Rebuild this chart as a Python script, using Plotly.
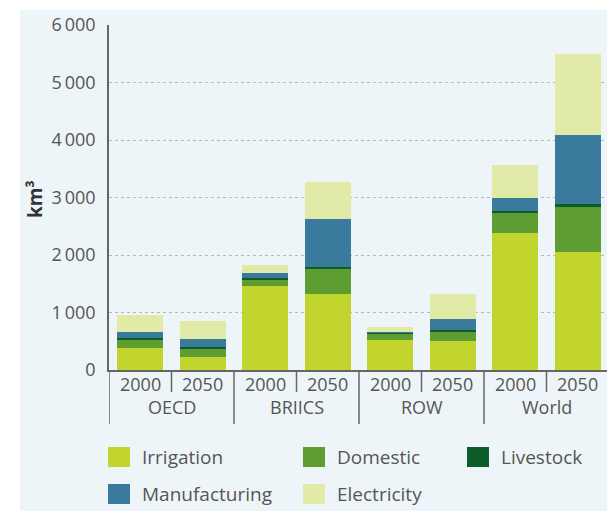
import plotly.graph_objects as go

groups = ["OECD", "BRIICS", "ROW", "World"]
years = ["2000", "2050"]
series_names = ["Irrigation", "Domestic", "Livestock", "Manufacturing", "Electricity"]
irrigation = [390, 220, 1460, 1320, 530, 505, 2390, 2060]
domestic = [140, 157, 115, 430, 100, 160, 350, 770]
livestock = [30, 25, 20, 35, 20, 30, 30, 60]
manufacturing = [100, 130, 100, 840, 15, 185, 230, 1200]
electricity = [290, 325, 130, 640, 80, 440, 560, 1400]
colors = ["#c2d52e", "#5d9d32", "#0d5c2a", "#3a7b9d", "#e2eaa8"]
ytick_vals = [0, 1000, 2000, 3000, 4000, 5000, 6000]
ytick_text = ["0", "1\u2009000", "2\u2009000", "3\u2009000", "4\u2009000", "5\u2009000", "6\u2009000"]

W, H = 607, 511
L, T, B = 109, 25, 141
plot_w = W - L
plot_h = H - T - B

font_family = "Open Sans"
text_color = "#555555"

series_vals = [irrigation, domestic, livestock, manufacturing, electricity]
n_bars = len(groups) * len(years)
xpos = list(range(n_bars))
year_labels = [y for g in groups for y in years]

fig = go.Figure()
for name, vals, col in zip(series_names, series_vals, colors):
    fig.add_trace(go.Bar(x=xpos, y=vals, name=name, marker=dict(color=col, line=dict(width=0)),
                         width=0.74, showlegend=False))

spacing = 62.5
x_end = -0.5 + plot_w / spacing

def px_to_paper_x(px):
    return (px - L) / plot_w

def px_to_paper_y(py):
    return (H - B - py) / plot_h

shapes = []
# background panel
shapes.append(dict(type="rect", xref="paper", yref="paper",
                   x0=px_to_paper_x(20), x1=px_to_paper_x(W + 5),
                   y0=px_to_paper_y(H + 5), y1=px_to_paper_y(10),
                   fillcolor="#eef5f8", line=dict(width=0), layer="below"))
# separators below x axis
for i in range(len(groups) + 1):
    xs = i * len(years) - 0.5
    if xs > x_end:
        continue
    shapes.append(dict(type="line", xref="x", yref="paper", x0=xs, x1=xs,
                       y0=0, y1=px_to_paper_y(424), line=dict(color="#666666", width=1.5)))
for i in range(len(groups)):
    xs = i * len(years) + 0.5
    shapes.append(dict(type="line", xref="x", yref="paper", x0=xs, x1=xs,
                       y0=0, y1=px_to_paper_y(392), line=dict(color="#666666", width=1.5)))

annotations = []
for i, g in enumerate(groups):
    annotations.append(dict(x=i * len(years) + 0.5, y=px_to_paper_y(407), xref="x", yref="paper",
                            text=g, showarrow=False, font=dict(size=18, color=text_color, family=font_family),
                            xanchor="center", yanchor="middle"))
for i, yl in enumerate(year_labels):
    annotations.append(dict(x=i, y=px_to_paper_y(384), xref="x", yref="paper",
                            text=yl, showarrow=False, font=dict(size=18, color=text_color, family=font_family),
                            xanchor="center", yanchor="middle"))
# y title
annotations.append(dict(x=px_to_paper_x(35), y=px_to_paper_y(199), xref="paper", yref="paper",
                        text="<b>km³</b>", textangle=-90, showarrow=False,
                        font=dict(size=19, color="#333333", family=font_family),
                        xanchor="center", yanchor="middle"))

# legend (manual)
legend_pos = [(108, 457), (303, 457), (467, 457), (108, 494), (303, 494)]
for (lx, ly), name, col in zip(legend_pos, series_names, colors):
    shapes.append(dict(type="rect", xref="paper", yref="paper",
                       x0=px_to_paper_x(lx), x1=px_to_paper_x(lx + 22),
                       y0=px_to_paper_y(ly + 10), y1=px_to_paper_y(ly - 10),
                       fillcolor=col, line=dict(width=0)))
    annotations.append(dict(x=px_to_paper_x(lx + 32), y=px_to_paper_y(ly), xref="paper", yref="paper",
                            text=name, showarrow=False, xanchor="left", yanchor="middle",
                            font=dict(size=19, color=text_color, family=font_family)))

fig.update_layout(
    width=W, height=H,
    margin=dict(l=L, r=0, t=T, b=B, pad=0),
    barmode="stack",
    paper_bgcolor="white",
    plot_bgcolor="rgba(0,0,0,0)",
    shapes=shapes,
    annotations=annotations,
    font=dict(family=font_family, color=text_color),
    xaxis=dict(range=[-0.5, x_end], showticklabels=False, showgrid=False, zeroline=False,
               showline=True, linecolor="#666666", linewidth=1.5, ticks=""),
    yaxis=dict(range=[0, 6000], tickvals=ytick_vals, ticktext=ytick_text,
               showgrid=True, gridcolor="#b5b9bb", griddash="dot", gridwidth=1,
               zeroline=False, showline=True, linecolor="#666666", linewidth=1.5,
               ticks="", ticklabelstandoff=8,
               tickfont=dict(size=18, color=text_color, family=font_family)),
)

fig.write_html("out.html")
